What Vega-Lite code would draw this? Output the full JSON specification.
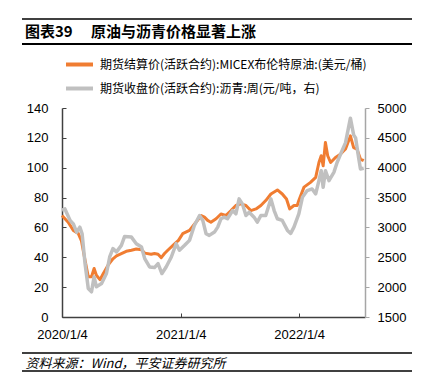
{
  "$schema": "https://vega.github.io/schema/vega-lite/v6.json",
  "width": 303,
  "height": 209,
  "autosize": {"type": "none"},
  "padding": {"left": 62, "top": 108, "right": 62, "bottom": 71},
  "background": "white",
  "config": {
    "view": {"stroke": null},
    "font": "Liberation Sans",
    "axis": {"grid": false, "labelFont": "Liberation Sans", "labelFontSize": 13, "labelColor": "#000000"}
  },
  "datasets": {
    "oil": [
      {"date": "2020-01-04", "v": 68},
      {"date": "2020-01-23", "v": 63.5},
      {"date": "2020-02-08", "v": 58},
      {"date": "2020-02-23", "v": 56},
      {"date": "2020-03-04", "v": 51},
      {"date": "2020-03-15", "v": 38},
      {"date": "2020-03-25", "v": 27},
      {"date": "2020-04-04", "v": 27},
      {"date": "2020-04-12", "v": 32.5},
      {"date": "2020-04-19", "v": 28},
      {"date": "2020-04-30", "v": 25},
      {"date": "2020-05-10", "v": 29},
      {"date": "2020-05-25", "v": 34.7},
      {"date": "2020-06-09", "v": 39},
      {"date": "2020-06-20", "v": 41},
      {"date": "2020-07-05", "v": 42.5},
      {"date": "2020-07-20", "v": 44},
      {"date": "2020-08-05", "v": 44.7},
      {"date": "2020-08-20", "v": 45.5},
      {"date": "2020-09-05", "v": 45},
      {"date": "2020-09-15", "v": 42.8},
      {"date": "2020-10-05", "v": 42},
      {"date": "2020-10-15", "v": 42.5},
      {"date": "2020-10-26", "v": 42},
      {"date": "2020-11-05", "v": 39.8},
      {"date": "2020-11-15", "v": 42.5},
      {"date": "2020-11-25", "v": 44.7},
      {"date": "2020-12-16", "v": 49},
      {"date": "2020-12-28", "v": 51.3},
      {"date": "2021-01-10", "v": 55.8},
      {"date": "2021-01-31", "v": 58},
      {"date": "2021-02-20", "v": 63.5},
      {"date": "2021-03-08", "v": 68},
      {"date": "2021-03-18", "v": 66.9},
      {"date": "2021-03-28", "v": 64.7},
      {"date": "2021-04-07", "v": 63.5},
      {"date": "2021-04-23", "v": 65.8},
      {"date": "2021-05-08", "v": 69},
      {"date": "2021-05-23", "v": 68},
      {"date": "2021-06-08", "v": 71.3},
      {"date": "2021-06-23", "v": 74.7},
      {"date": "2021-07-08", "v": 75.8},
      {"date": "2021-07-24", "v": 74.7},
      {"date": "2021-08-08", "v": 71.3},
      {"date": "2021-08-24", "v": 72.4},
      {"date": "2021-09-08", "v": 74.7},
      {"date": "2021-09-23", "v": 78},
      {"date": "2021-10-09", "v": 82.4},
      {"date": "2021-10-29", "v": 85.1},
      {"date": "2021-11-13", "v": 82.4},
      {"date": "2021-11-26", "v": 79},
      {"date": "2021-12-06", "v": 72.4},
      {"date": "2021-12-19", "v": 74.7},
      {"date": "2021-12-29", "v": 74.7},
      {"date": "2022-01-03", "v": 78},
      {"date": "2022-01-19", "v": 87},
      {"date": "2022-02-08", "v": 90.2},
      {"date": "2022-02-24", "v": 93.5},
      {"date": "2022-03-06", "v": 103.5},
      {"date": "2022-03-13", "v": 108},
      {"date": "2022-03-19", "v": 101.3},
      {"date": "2022-03-26", "v": 116.9},
      {"date": "2022-04-02", "v": 108},
      {"date": "2022-04-11", "v": 103.5},
      {"date": "2022-04-26", "v": 106.9},
      {"date": "2022-05-11", "v": 109},
      {"date": "2022-05-27", "v": 112.5},
      {"date": "2022-06-11", "v": 121.3},
      {"date": "2022-06-21", "v": 113.5},
      {"date": "2022-07-01", "v": 112.5},
      {"date": "2022-07-12", "v": 105.8},
      {"date": "2022-07-22", "v": 104.7}
    ],
    "asphalt": [
      {"date": "2020-01-04", "v": 3290},
      {"date": "2020-01-13", "v": 3310},
      {"date": "2020-01-29", "v": 3117},
      {"date": "2020-02-08", "v": 3060},
      {"date": "2020-02-18", "v": 2920},
      {"date": "2020-02-28", "v": 3005},
      {"date": "2020-03-06", "v": 2895},
      {"date": "2020-03-15", "v": 2395},
      {"date": "2020-03-25", "v": 1978},
      {"date": "2020-04-04", "v": 1922},
      {"date": "2020-04-12", "v": 2172},
      {"date": "2020-04-19", "v": 2005},
      {"date": "2020-05-05", "v": 2061},
      {"date": "2020-05-20", "v": 2228},
      {"date": "2020-05-30", "v": 2505},
      {"date": "2020-06-09", "v": 2645},
      {"date": "2020-06-20", "v": 2590},
      {"date": "2020-07-05", "v": 2700},
      {"date": "2020-07-15", "v": 2850},
      {"date": "2020-08-05", "v": 2838},
      {"date": "2020-08-20", "v": 2728},
      {"date": "2020-09-05", "v": 2672},
      {"date": "2020-09-15", "v": 2478},
      {"date": "2020-09-30", "v": 2338},
      {"date": "2020-10-15", "v": 2328},
      {"date": "2020-10-26", "v": 2395},
      {"date": "2020-11-07", "v": 2228},
      {"date": "2020-11-20", "v": 2338},
      {"date": "2020-12-06", "v": 2505},
      {"date": "2020-12-21", "v": 2728},
      {"date": "2020-12-31", "v": 2617},
      {"date": "2021-01-16", "v": 2700},
      {"date": "2021-01-31", "v": 2783},
      {"date": "2021-02-15", "v": 3033},
      {"date": "2021-03-03", "v": 3200},
      {"date": "2021-03-13", "v": 3117},
      {"date": "2021-03-23", "v": 2895},
      {"date": "2021-04-02", "v": 2867},
      {"date": "2021-04-18", "v": 2922},
      {"date": "2021-04-28", "v": 3005},
      {"date": "2021-05-08", "v": 3145},
      {"date": "2021-05-18", "v": 3172},
      {"date": "2021-05-28", "v": 3145},
      {"date": "2021-06-13", "v": 3283},
      {"date": "2021-06-23", "v": 3228},
      {"date": "2021-07-03", "v": 3478},
      {"date": "2021-07-13", "v": 3395},
      {"date": "2021-07-24", "v": 3200},
      {"date": "2021-08-03", "v": 3255},
      {"date": "2021-08-18", "v": 3172},
      {"date": "2021-08-28", "v": 3088},
      {"date": "2021-09-08", "v": 3200},
      {"date": "2021-09-23", "v": 3200},
      {"date": "2021-10-09", "v": 3478},
      {"date": "2021-10-19", "v": 3283},
      {"date": "2021-10-29", "v": 3145},
      {"date": "2021-11-13", "v": 3117},
      {"date": "2021-11-29", "v": 2950},
      {"date": "2021-12-09", "v": 2900},
      {"date": "2021-12-19", "v": 3005},
      {"date": "2022-01-03", "v": 3228},
      {"date": "2022-01-14", "v": 3505},
      {"date": "2022-01-29", "v": 3617},
      {"date": "2022-02-13", "v": 3645},
      {"date": "2022-02-24", "v": 3562},
      {"date": "2022-03-06", "v": 3783},
      {"date": "2022-03-13", "v": 3950},
      {"date": "2022-03-19", "v": 3672},
      {"date": "2022-03-26", "v": 3950},
      {"date": "2022-04-06", "v": 3783},
      {"date": "2022-04-21", "v": 3922},
      {"date": "2022-05-01", "v": 4088},
      {"date": "2022-05-16", "v": 4283},
      {"date": "2022-05-27", "v": 4420},
      {"date": "2022-06-11", "v": 4830},
      {"date": "2022-06-21", "v": 4550},
      {"date": "2022-06-27", "v": 4500},
      {"date": "2022-07-07", "v": 4145},
      {"date": "2022-07-12", "v": 3978},
      {"date": "2022-07-22", "v": 3990}
    ]
  },
  "layer": [
    {
      "data": {"name": "oil"},
      "mark": {"type": "line", "strokeWidth": 3, "color": "#F07D32", "strokeJoin": "round"},
      "encoding": {
        "x": {
          "field": "date", "type": "temporal",
          "scale": {"type": "utc", "domain": [{"year": 2020, "month": 1, "date": 4, "utc": true}, {"year": 2022, "month": 7, "date": 26, "utc": true}]},
          "axis": {
            "values": [{"year": 2020, "month": 1, "date": 4, "utc": true}, {"year": 2021, "month": 1, "date": 4, "utc": true}, {"year": 2022, "month": 1, "date": 4, "utc": true}],
            "format": "%Y/%-m/%-d",
            "domainColor": "#404040", "domainWidth": 1.5, "tickColor": "#404040", "tickSize": -4,
            "labelPadding": 15, "labelFlush": false, "labelOverlap": false,
            "title": "资料来源：Wind，平安证券研究所",
            "titleFont": "Noto Sans CJK SC", "titleFontSize": 13, "titleFontStyle": "italic", "titleFontWeight": "normal",
            "titleColor": "#000000", "titleX": -37, "titleY": 46, "titleAlign": "left", "titleBaseline": "middle"
          }
        },
        "y": {
          "field": "v", "type": "quantitative",
          "scale": {"domain": [0, 140], "nice": false, "zero": false},
          "axis": {
            "orient": "left", "values": [0, 20, 40, 60, 80, 100, 120, 140], "title": null,
            "domainColor": "#404040", "domainWidth": 1.5, "tickColor": "#404040", "tickSize": -4, "labelPadding": 18
          }
        },
        "color": {
          "datum": "期货结算价(活跃合约):MICEX布伦特原油:(美元/桶)",
          "type": "nominal",
          "scale": {
            "domain": ["期货结算价(活跃合约):MICEX布伦特原油:(美元/桶)", "期货收盘价(活跃合约):沥青:周(元/吨，右)"],
            "range": ["#F07D32", "#C0C0C0"]
          },
          "legend": {
            "orient": "none", "legendX": 2, "legendY": -59, "title": null, "direction": "vertical",
            "symbolType": "stroke", "symbolSize": 729, "symbolStrokeWidth": 4,
            "labelFont": "Noto Sans CJK SC", "labelFontSize": 12, "labelColor": "#000000", "labelLimit": 400,
            "labelOffset": 5, "rowPadding": -5, "padding": 0
          }
        }
      }
    },
    {
      "data": {"name": "asphalt"},
      "mark": {"type": "line", "strokeWidth": 3.5, "color": "#C0C0C0", "strokeJoin": "round"},
      "encoding": {
        "x": {"field": "date", "type": "temporal"},
        "y": {
          "field": "v", "type": "quantitative",
          "scale": {"domain": [1500, 5000], "nice": false, "zero": false},
          "axis": {
            "orient": "right", "values": [1500, 2000, 2500, 3000, 3500, 4000, 4500, 5000], "format": "d", "title": null,
            "domainColor": "#A6A6A6", "domainWidth": 1.5, "tickColor": "#A6A6A6", "tickSize": 4, "labelPadding": 8
          }
        },
        "color": {"datum": "期货收盘价(活跃合约):沥青:周(元/吨，右)", "type": "nominal"}
      }
    },
    {
      "data": {"values": [{}]},
      "mark": {"type": "text", "text": "图表39　 原油与沥青价格显著上涨", "font": "Noto Sans CJK SC", "fontSize": 15, "fontWeight": "bold", "color": "#000000", "align": "left", "baseline": "middle"},
      "encoding": {"x": {"value": -37}, "y": {"value": -76}}
    },
    {
      "data": {"values": [{}]},
      "mark": {"type": "rule", "color": "#000000", "strokeWidth": 1.3},
      "encoding": {"x": {"value": -40}, "x2": {"value": 350}, "y": {"value": -89}}
    },
    {
      "data": {"values": [{}]},
      "mark": {"type": "rule", "color": "#000000", "strokeWidth": 1.8},
      "encoding": {"x": {"value": -40}, "x2": {"value": 350}, "y": {"value": -64}}
    },
    {
      "data": {"values": [{}]},
      "mark": {"type": "rule", "color": "#000000", "strokeWidth": 1.3},
      "encoding": {"x": {"value": -40}, "x2": {"value": 350}, "y": {"value": 245}}
    },
    {
      "data": {"values": [{}]},
      "mark": {"type": "rule", "color": "#000000", "strokeWidth": 1.3},
      "encoding": {"x": {"value": -40}, "x2": {"value": 350}, "y": {"value": 263}}
    }
  ],
  "resolve": {"scale": {"y": "independent"}}
}
